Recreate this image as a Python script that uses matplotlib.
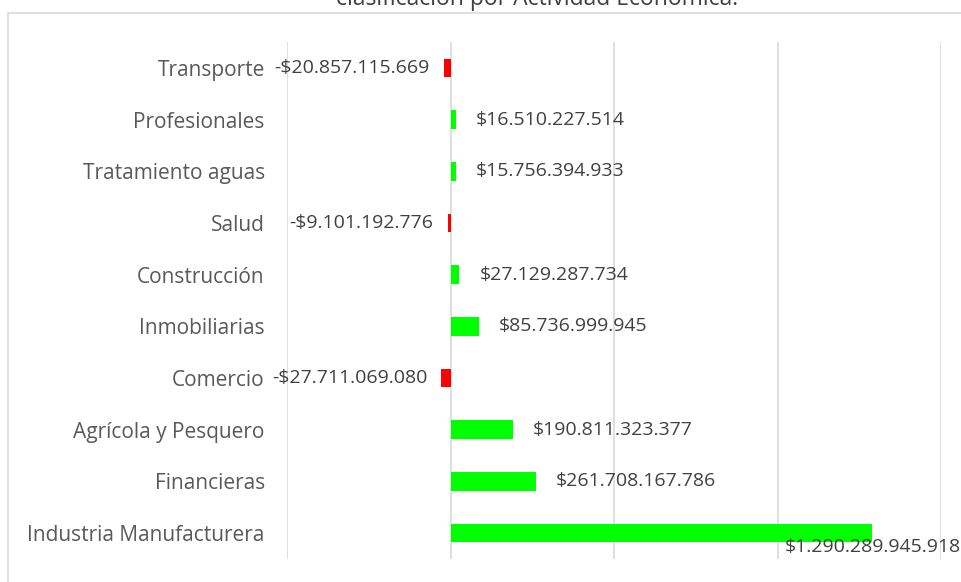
import matplotlib
matplotlib.use("Agg")
import matplotlib.pyplot as plt
from matplotlib.patches import Rectangle

categories = ["Transporte", "Profesionales", "Tratamiento aguas", "Salud", "Construcción",
              "Inmobiliarias", "Comercio", "Agrícola y Pesquero", "Financieras",
              "Industria Manufacturera"]
values = [-20857115669, 16510227514, 15756394933, -9101192776, 27129287734,
          85736999945, -27711069080, 190811323377, 261708167786, 1290289945918]
labels = ["-$20.857.115.669", "$16.510.227.514", "$15.756.394.933", "-$9.101.192.776",
          "$27.129.287.734", "$85.736.999.945", "-$27.711.069.080", "$190.811.323.377",
          "$261.708.167.786", "$1.290.289.945.918"]
title = "clasificación por Actividad Económica."

W, H = 961, 582
fig = plt.figure(figsize=(W / 100, H / 100), dpi=100)
FONT = "Open Sans"

# outer chart border (only top/left visible)
fig.patches.append(Rectangle((8 / W, -0.1), 1.2, 1 - 12.5 / H + 0.1, transform=fig.transFigure,
                             fill=False, edgecolor="#D9D9D9", linewidth=1.2))

ax = fig.add_axes([287 / W, 1 - 558.8 / H, (941 - 287) / W, (558.8 - 42.2) / H])
n = len(categories)
ypos = list(range(n))
colors = ["#FF0000" if v < 0 else "#00FF00" for v in values]
ax.barh(ypos, values, height=0.36, color=colors, zorder=3)
ax.set_ylim(n - 0.5, -0.5)
ax.set_xlim(-0.5e12, 1.5e12)
ax.set_xticks([-0.5e12, 0, 0.5e12, 1.0e12, 1.5e12])
ax.set_xticklabels([])
ax.tick_params(axis="x", length=0)
ax.grid(axis="x", color="#D9D9D9", linewidth=1.2, zorder=0)
for s in ax.spines.values():
    s.set_visible(False)
ax.set_yticks(ypos)
ax.set_yticklabels(categories, fontsize=15, color="#595959", family=FONT)
ax.tick_params(axis="y", length=0, pad=16)

LFS = 14
for i, (v, lab) in enumerate(zip(values, labels)):
    if i == n - 1:
        ax.annotate(lab, xy=(1, i), xycoords=("axes fraction", "data"),
                    xytext=(20, -14), textcoords="offset pixels", ha="right", va="center",
                    fontsize=LFS, color="#404040", family=FONT, annotation_clip=False)
    elif v >= 0:
        ax.annotate(lab, xy=(v, i), xytext=(20, 0), textcoords="offset pixels",
                    ha="left", va="center", fontsize=LFS, color="#404040", family=FONT)
    else:
        ax.annotate(lab, xy=(v, i), xytext=(-14, 0), textcoords="offset pixels",
                    ha="right", va="center", fontsize=LFS, color="#404040", family=FONT)

fig.text(537 / W, 1 - 5 / H, title, ha="center", va="baseline", fontsize=16.5,
         color="#404040", family=FONT)

fig.savefig("out.png", dpi=100)
